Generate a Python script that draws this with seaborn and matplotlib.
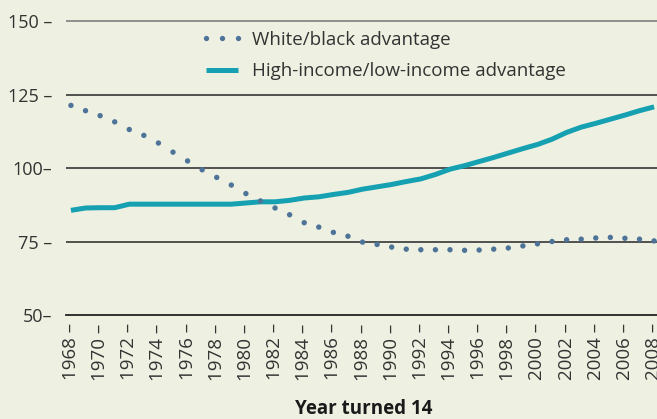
import matplotlib
matplotlib.use("Agg")
import matplotlib.pyplot as plt
from matplotlib.lines import Line2D
import seaborn as sns
import pandas as pd

years = list(range(1968, 2009))
white_black = [121.3, 119.5, 117.8, 115.7, 113.1, 111.1, 108.5, 105.4, 102.4, 99.4,
               96.8, 94.2, 91.3, 88.8, 86.4, 84.1, 81.4, 79.9, 78.1, 76.8,
               74.8, 74.0, 73.1, 72.4, 72.2, 72.2, 72.2, 72.0, 72.1, 72.4,
               72.8, 73.5, 74.2, 75.0, 75.6, 75.8, 76.2, 76.4, 76.1, 75.8, 75.2]
high_low = [85.6, 86.4, 86.5, 86.5, 87.7, 87.7, 87.7, 87.7, 87.7, 87.7,
            87.7, 87.7, 88.1, 88.5, 88.5, 89.0, 89.8, 90.2, 91.0, 91.7,
            92.8, 93.6, 94.4, 95.4, 96.3, 97.8, 99.6, 100.8, 102.2, 103.6,
            105.1, 106.6, 108.0, 109.8, 112.1, 113.9, 115.2, 116.6, 118.0, 119.5, 120.8]
series_names = ["White/black advantage", "High-income/low-income advantage"]
y_ticks = [50, 75, 100, 125, 150]
y_tick_labels = ["50\u2013", "75 \u2013", "100\u2013", "125 \u2013", "150 \u2013"]
x_ticks = list(range(1968, 2009, 2))
x_tick_labels = [f"{y} \u2013" for y in x_ticks]
x_label = "Year turned 14"

df = pd.DataFrame({"year": years, "wb": white_black, "hl": high_low})

BG = "#EEF0E1"
TEAL = "#15A1B1"
DOT = "#4E7398"
TXT = "#333333"

sns.set_style("white")
plt.rcParams["font.family"] = ["Open Sans", "DejaVu Sans"]

fig = plt.figure(figsize=(6.57, 4.19), dpi=100, facecolor=BG)
ax = fig.add_axes([66 / 657, 104 / 419, 591 / 657, 300 / 419])
ax.set_facecolor(BG)

# gridlines
for v in y_ticks[1:]:
    ax.axhline(v, color="#888888" if v == 150 else "#444444", lw=1.3, zorder=1)

sns.lineplot(data=df, x="year", y="hl", ax=ax, color=TEAL, lw=3.6,
             solid_capstyle="butt", zorder=3, legend=False)
sns.scatterplot(data=df, x="year", y="wb", ax=ax, color=DOT, s=15,
                edgecolor="none", zorder=4, legend=False)

ax.set_xlim(1967.66, 2008.2)
ax.set_ylim(50, 152.05)
for s in ["top", "right", "left"]:
    ax.spines[s].set_visible(False)
ax.spines["bottom"].set_color("#222222")
ax.spines["bottom"].set_linewidth(1.3)

ax.set_yticks(y_ticks)
ax.set_yticklabels(y_tick_labels, fontsize=13, color=TXT)
ax.set_xticks(x_ticks)
ax.set_xticklabels(x_tick_labels, fontsize=13.5, color=TXT, rotation=90)
ax.tick_params(axis="both", length=0)
ax.tick_params(axis="y", pad=10)
ax.tick_params(axis="x", pad=6)
ax.set_xlabel("")
ax.set_ylabel("")

fig.text(364 / 657, 1 - 409 / 419, x_label, ha="center", va="center",
         fontsize=13.5, fontweight="bold", color="#1a1a1a")

handles = [
    Line2D([], [], color=DOT, marker="o", linestyle="none", markersize=3.8,
           markeredgewidth=0),
    Line2D([], [], color=TEAL, lw=3.6, solid_capstyle="butt"),
]
leg = ax.legend(handles, series_names, loc="upper left",
                bbox_to_anchor=(200 / 657, 1 - 31 / 419),
                bbox_transform=fig.transFigure, frameon=False, numpoints=3,
                handlelength=2.35, handletextpad=0.45, labelspacing=0.72,
                fontsize=13.5, borderaxespad=0, borderpad=0)
for t in leg.get_texts():
    t.set_color(TXT)

fig.savefig("out.png", dpi=100, facecolor=BG)
